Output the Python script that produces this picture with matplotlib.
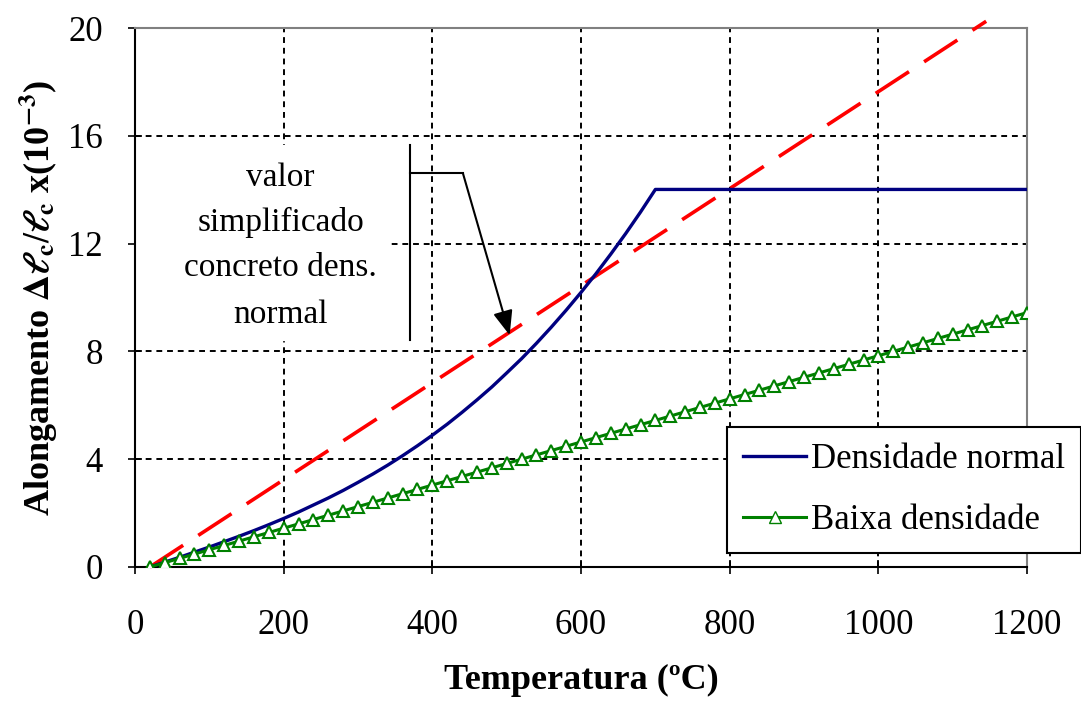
import matplotlib.pyplot as plt
from matplotlib.lines import Line2D

plt.rcParams['font.family'] = ['Liberation Serif', 'DejaVu Serif']
plt.rcParams['mathtext.fontset'] = 'stix'

# data (strain x 10^-3)
temp_normal = [20, 40, 60, 80, 100, 120, 140, 160, 180, 200, 220, 240, 260, 280,
               300, 320, 340, 360, 380, 400, 420, 440, 460, 480, 500, 520, 540,
               560, 580, 600, 620, 640, 660, 680, 700, 1200]
strain_normal = [0.00, 0.18, 0.36, 0.55, 0.74, 0.94, 1.14, 1.35, 1.57, 1.80, 2.04,
                 2.30, 2.56, 2.84, 3.14, 3.45, 3.78, 4.13, 4.50, 4.89, 5.30, 5.74,
                 6.20, 6.68, 7.20, 7.73, 8.30, 8.90, 9.53, 10.19, 10.88, 11.61,
                 12.37, 13.17, 14.01, 14.01]

temp_light = [20, 40, 60, 80, 100, 120, 140, 160, 180, 200, 220, 240, 260, 280,
              300, 320, 340, 360, 380, 400, 420, 440, 460, 480, 500, 520, 540,
              560, 580, 600, 620, 640, 660, 680, 700, 720, 740, 760, 780, 800,
              820, 840, 860, 880, 900, 920, 940, 960, 980, 1000, 1020, 1040,
              1060, 1080, 1100, 1120, 1140, 1160, 1180, 1200]
strain_light = [0.00, 0.16, 0.32, 0.48, 0.64, 0.80, 0.96, 1.12, 1.28, 1.44, 1.60,
                1.76, 1.92, 2.08, 2.24, 2.40, 2.56, 2.72, 2.88, 3.04, 3.20, 3.36,
                3.52, 3.68, 3.84, 4.00, 4.16, 4.32, 4.48, 4.64, 4.80, 4.96, 5.12,
                5.28, 5.44, 5.60, 5.76, 5.92, 6.08, 6.24, 6.40, 6.56, 6.72, 6.88,
                7.04, 7.20, 7.36, 7.52, 7.68, 7.84, 8.00, 8.16, 8.32, 8.48, 8.64,
                8.80, 8.96, 9.12, 9.28, 9.44]

temp_simpl = [20, 1145]
strain_simpl = [0.0, 20.25]

fig = plt.figure(figsize=(10.81, 7.13), dpi=100)
ax = fig.add_axes([0.1249, 0.2048, 0.8252, 0.7559])

ax.plot(temp_simpl, strain_simpl, color='#ff0000', lw=2.6, dashes=(11, 5),
        clip_on=False, zorder=3)
ax.plot(temp_normal, strain_normal, color='#000080', lw=2.4, zorder=4)
ax.plot(temp_light, strain_light, color='#008000', lw=2.2, marker='^',
        markersize=8, markerfacecolor='white', markeredgecolor='#008000',
        markeredgewidth=1.5, zorder=4)

ax.set_xlim(0, 1200)
ax.set_ylim(0, 20)
ax.set_xticks(range(0, 1201, 200))
ax.set_yticks(range(0, 21, 4))
ax.grid(True, color='black', linestyle=(0, (3, 2.5)), lw=1.4)
ax.set_axisbelow(True)
ax.tick_params(direction='inout', length=10, width=1.2, labelsize=25)
ax.tick_params(axis='x', pad=25)
ax.tick_params(axis='y', pad=18)
for s in ['left', 'bottom']:
    ax.spines[s].set_color('black')
    ax.spines[s].set_linewidth(1.5)
for s in ['top', 'right']:
    ax.spines[s].set_color('#808080')
    ax.spines[s].set_linewidth(1.5)

ax.set_xlabel('Temperatura (ºC)', fontsize=26, fontweight='bold', labelpad=16)
ax.set_ylabel(r'Alongamento $\mathbf{\Delta}\boldsymbol{\ell}_\mathbf{c}/\boldsymbol{\ell}_\mathbf{c}$ x(10$^{\mathbf{-3}}$)',
              fontsize=26, fontweight='bold', labelpad=6)

# callout
ax.fill_between([0, 343], 8.42, 15.66, color='white', zorder=2)
ax.plot([370, 370], [8.42, 15.66], color='black', lw=1.5, zorder=5)
for y, s in zip([14.43, 12.8, 11.09, 9.35],
                ['valor', 'simplificado', 'concreto dens.', 'normal']):
    ax.text(196, y, s, ha='center', va='center', fontsize=24, zorder=6)
ax.plot([370, 441], [14.62, 14.62], color='black', lw=1.5, zorder=5)
ax.annotate('', xy=(504, 8.6), xytext=(441, 14.62),
            arrowprops=dict(arrowstyle='-|>,head_length=1.5,head_width=0.6',
                            color='black', lw=1.5, shrinkA=0, shrinkB=0), zorder=5)

handles = [Line2D([], [], color='#000080', lw=2.4),
           Line2D([], [], color='#008000', lw=2.2, marker='^', markersize=8,
                  markerfacecolor='white', markeredgecolor='#008000')]
leg = ax.legend(handles, ['Densidade normal', 'Baixa densidade'], loc='upper left',
                bbox_to_anchor=(727 / 1081, 1 - 427 / 713), bbox_transform=fig.transFigure,
                borderaxespad=0, fontsize=25, frameon=True, fancybox=False,
                edgecolor='black', framealpha=1, handlelength=1.8,
                handletextpad=0.15, labelspacing=0.8, borderpad=0.47)
leg.get_frame().set_linewidth(1.5)

fig.savefig('out.png', dpi=100)
